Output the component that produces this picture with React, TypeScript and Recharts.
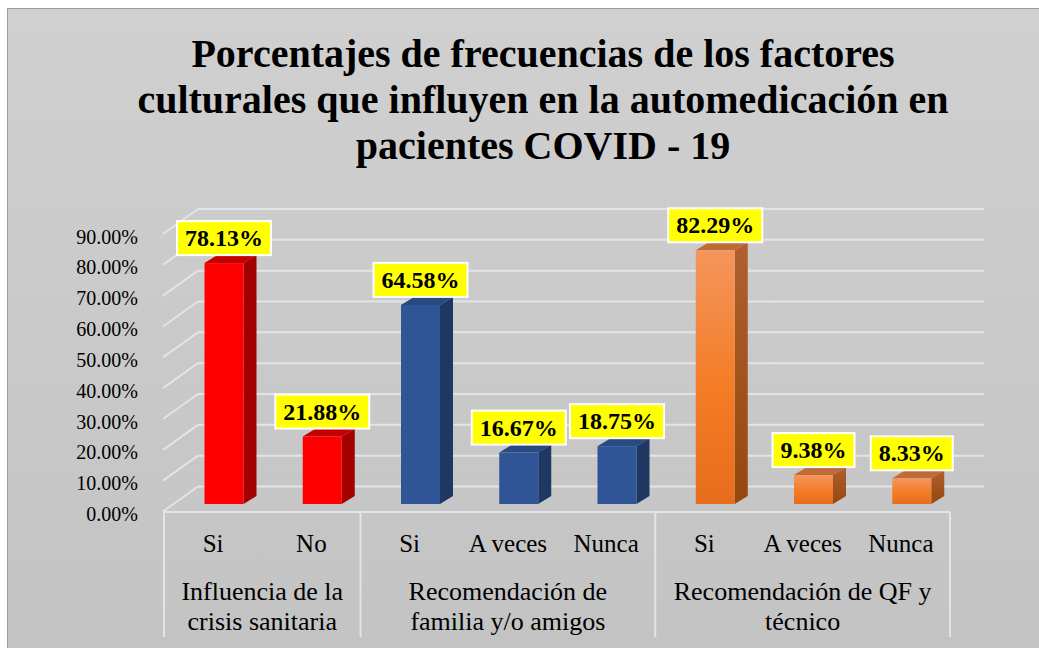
import { BarChart, Bar, XAxis, YAxis, CartesianGrid, LabelList } from 'recharts';

const categories = ['Si', 'No', 'Si', 'A veces', 'Nunca', 'Si', 'A veces', 'Nunca'];
const values = [78.13, 21.88, 64.58, 16.67, 18.75, 82.29, 9.38, 8.33];
const groupOf = [0, 0, 1, 1, 1, 2, 2, 2];
const groupLabels = [
  ['Influencia de la', 'crisis sanitaria'],
  ['Recomendación de', 'familia y/o amigos'],
  ['Recomendación de QF y', 'técnico'],
];
const yTicks = [0, 10, 20, 30, 40, 50, 60, 70, 80, 90];
const titleLines = [
  'Porcentajes de frecuencias de los factores',
  'culturales que influyen en la automedicación en',
  'pacientes COVID - 19',
];

const W = 1031;
const H = 640;
const MARGIN = { top: 218.5, right: 89, left: 56, bottom: 0 };
const Y_W = 100;
const BAND = (W - MARGIN.left - Y_W - MARGIN.right) / categories.length;
const SHIFT = 10.5; // bars sit mid-depth of the 3D floor
const DX = 13; // bar depth
const DY = 8;
const WALL_DX = 34; // depth of the walls
const GRID = '#e3e3ea';
const FONT = '"Liberation Serif", "Liberation Sans", Arial, sans-serif';

const palette = [
  { front: '#ff0000', side: '#a30000', top: '#c40000' },
  { front: '#2f5597', side: '#1f3763', top: '#284a80' },
  { front: 'url(#orFront)', side: 'url(#orSide)', top: '#c06a38' },
];

const data = categories.map((c, i) => ({ idx: i, cat: c, value: values[i], group: groupOf[i] }));

function Bar3D(props: any) {
  const { x, y, width, height, payload } = props;
  const p = palette[payload.group];
  const fx = x + SHIFT;
  return (
    <g>
      <polygon
        points={`${fx},${y} ${fx + DX},${y - DY} ${fx + width + DX},${y - DY} ${fx + width},${y}`}
        fill={p.top}
      />
      <polygon
        points={`${fx + width},${y} ${fx + width + DX},${y - DY} ${fx + width + DX},${y + height - DY} ${fx + width},${y + height}`}
        fill={p.side}
      />
      <rect x={fx} y={y} width={width} height={height} fill={p.front} />
    </g>
  );
}

function ValueLabel(props: any) {
  const { x, y, width, value } = props;
  const text = value.toFixed(2) + '%';
  const bw = text.length * 12 + 22;
  const bh = 34;
  const cx = x + width / 2 + SHIFT;
  const top = y - 8 - bh;
  return (
    <g>
      <rect x={cx - bw / 2} y={top} width={bw} height={bh} fill="#ffff00" stroke="#ffffff" strokeWidth={2} />
      <text x={cx} y={top + 25} textAnchor="middle" fontFamily={FONT} fontWeight="bold" fontSize={24} fill="#000">
        {text}
      </text>
    </g>
  );
}

function GridLine(props: any) {
  const { x1, x2, y1 } = props;
  const back = y1 - 17.5;
  const front = y1 + 7.5;
  return (
    <g key={`g-${y1}`}>
      <line x1={x1 + WALL_DX} y1={back} x2={x2 + WALL_DX} y2={back} stroke={GRID} strokeWidth={2} />
      <line x1={x1 - 1} y1={front} x2={x1 + WALL_DX} y2={back} stroke={GRID} strokeWidth={2} />
    </g>
  );
}

function YTick(props: any) {
  const { x, y, payload } = props;
  return (
    <text x={x - 26} y={y + 17} textAnchor="end" fontFamily={FONT} fontSize={20} fill="#000">
      {payload.value.toFixed(2) + '%'}
    </text>
  );
}

function XTick(props: any) {
  const { x, y, payload } = props;
  const i = payload.index ?? payload.value;
  const g = groupOf[i];
  const first = i === 0 || groupOf[i - 1] !== g;
  const last = i === categories.length - 1;
  const n = groupOf.filter((v) => v === g).length;
  const floor = y + 8;
  return (
    <g>
      <line x1={x - BAND / 2} y1={floor} x2={x + BAND / 2} y2={floor} stroke={GRID} strokeWidth={2} />
      {first && <line x1={x - BAND / 2} y1={floor} x2={x - BAND / 2} y2={y + 133} stroke={GRID} strokeWidth={2} />}
      {last && <line x1={x + BAND / 2} y1={floor} x2={x + BAND / 2} y2={y + 133} stroke={GRID} strokeWidth={2} />}
      <text x={x} y={y + 48} textAnchor="middle" fontFamily={FONT} fontSize={25} fill="#000">
        {categories[i]}
      </text>
      {first &&
        groupLabels[g].map((line, k) => (
          <text
            key={k}
            x={x + ((n - 1) * BAND) / 2}
            y={y + 96 + k * 30}
            textAnchor="middle"
            fontFamily={FONT}
            fontSize={26}
            fill="#000"
          >
            {line}
          </text>
        ))}
    </g>
  );
}

export default function App() {
  return (
    <div
      style={{
        position: 'fixed',
        left: 7,
        top: 8,
        right: -10,
        bottom: -10,
        background: 'linear-gradient(#d0d0d0, #c3c3c3)',
        borderTop: '1px solid #9c9c9c',
        borderLeft: '1px solid #9c9c9c',
        overflow: 'hidden',
      }}
    >
      <style>{'html, body { overflow: hidden; }'}</style>
      <div
        style={{
          position: 'absolute',
          left: 0,
          top: 22,
          width: 1070,
          textAlign: 'center',
          fontFamily: FONT,
          fontWeight: 'bold',
          fontSize: 40,
          lineHeight: '46px',
          color: '#000',
        }}
      >
        {titleLines.map((t, i) => (
          <div key={i}>{t}</div>
        ))}
      </div>
      <div style={{ position: 'absolute', left: 0, top: -1 }}>
        <BarChart width={W} height={H} data={data} margin={MARGIN}>
          <defs>
            <linearGradient id="orFront" x1="0" y1="0" x2="0" y2="1">
              <stop offset="0%" stopColor="#f4955c" />
              <stop offset="55%" stopColor="#f47c25" />
              <stop offset="100%" stopColor="#e66d1c" />
            </linearGradient>
            <linearGradient id="orSide" x1="0" y1="0" x2="0" y2="1">
              <stop offset="0%" stopColor="#b0602e" />
              <stop offset="100%" stopColor="#96460f" />
            </linearGradient>
          </defs>
          <CartesianGrid vertical={false} horizontal={GridLine as any} stroke={GRID} />
          <YAxis
            width={Y_W}
            domain={[0, 90]}
            ticks={yTicks}
            axisLine={false}
            tickLine={false}
            tickSize={0}
            tickMargin={0}
            tick={YTick}
            interval={0}
          />
          <XAxis
            dataKey="idx"
            type="category"
            height={144}
            axisLine={false}
            tickLine={false}
            tickSize={0}
            tickMargin={0}
            interval={0}
            tick={XTick}
          />
          <Bar dataKey="value" barSize={39} shape={Bar3D} isAnimationActive={false}>
            <LabelList dataKey="value" content={ValueLabel} />
          </Bar>
        </BarChart>
      </div>
    </div>
  );
}
